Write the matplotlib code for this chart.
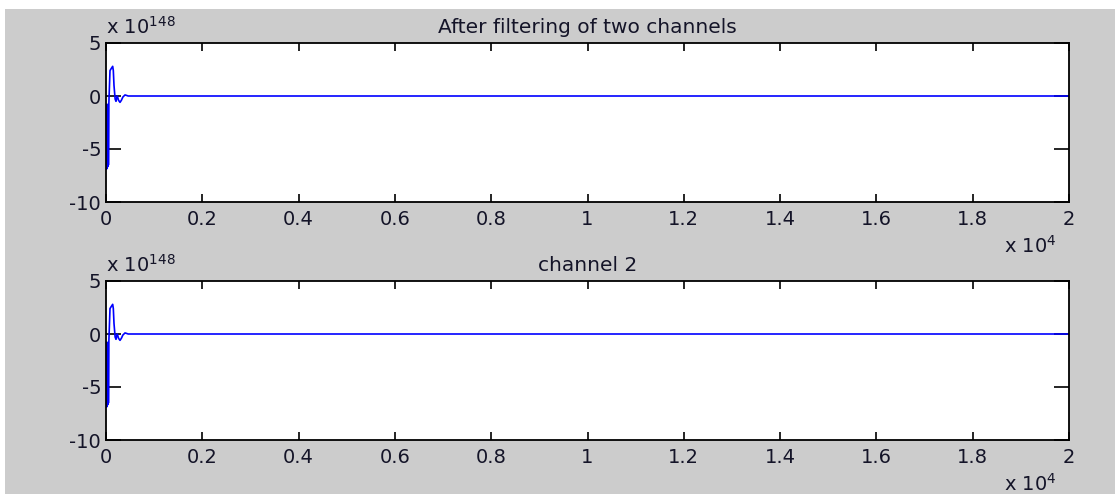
import numpy as np
import matplotlib.pyplot as plt
from matplotlib.patches import Rectangle
from matplotlib.ticker import FuncFormatter

# sample index and filtered output (in units of 1e148)
samples = [0, 5, 10, 15, 20, 25, 30, 35, 40, 45, 50, 60, 83, 110, 139, 152, 166,
           190, 208, 222, 235, 260, 291, 320, 350, 395, 430, 460, 20000]
channel_1 = [-6.9, -0.8, -6.9, -0.8, -6.8, -0.9, -6.7, -0.8, -6.6, -0.8, -6.5,
             -0.6, 2.4, 2.6, 2.8, 2.4, 1.0, -0.3, -0.5, -0.2, 0.0, -0.4, -0.6,
             -0.4, -0.1, 0.1, 0.05, 0.0, 0.0]
channel_2 = [-6.9, -0.8, -6.9, -0.8, -6.8, -0.9, -6.7, -0.8, -6.6, -0.8, -6.5,
             -0.6, 2.4, 2.6, 2.8, 2.4, 1.0, -0.3, -0.5, -0.2, 0.0, -0.4, -0.6,
             -0.4, -0.1, 0.1, 0.05, 0.0, 0.0]
titles = ['After filtering of two channels', 'channel 2']
y_ticks = [-10, -5, 0, 5]
x_ticks = [0, 2000, 4000, 6000, 8000, 10000, 12000, 14000, 16000, 18000, 20000]
y_exp = 148
x_exp = 4

W, H = 1115, 494
plt.rcParams['font.family'] = ['DejaVu Sans']
plt.rcParams['mathtext.fontset'] = 'dejavusans'

fig = plt.figure(figsize=(W / 100, H / 100), dpi=100, facecolor='white')
fig.patches.append(Rectangle((5 / W, 0), 1 - 5 / W, (H - 9) / H,
                             transform=fig.transFigure, facecolor='#cccccc',
                             edgecolor='none', zorder=-10))

boxes = [(106, 43, 1069, 202), (106, 281, 1069, 440)]
series = [channel_1, channel_2]
text_col = '#141428'

for (x0, y0, x1, y1), data, title in zip(boxes, series, titles):
    ax = fig.add_axes([x0 / W, 1 - y1 / H, (x1 - x0) / W, (y1 - y0) / H])
    ax.set_facecolor('white')
    ax.plot(samples, data, color='#0000ff', lw=1.2)
    ax.set_xlim(0, 20000)
    ax.set_ylim(-10, 5)
    ax.set_xticks(x_ticks)
    ax.set_yticks(y_ticks)
    ax.xaxis.set_major_formatter(FuncFormatter(lambda v, p: '%g' % (v / 10 ** x_exp)))
    ax.yaxis.set_major_formatter(FuncFormatter(lambda v, p: '%g' % v))
    ax.tick_params(axis='x', direction='in', length=6, width=1.2, top=True,
                   labelsize=14, pad=5.5, labelcolor=text_col)
    ax.tick_params(axis='y', direction='in', length=11, width=1.2, right=True,
                   labelsize=14, pad=3.5, labelcolor=text_col)
    for s in ax.spines.values():
        s.set_linewidth(1.3)
        s.set_color('black')
    ax.set_title(title, fontsize=14.5, pad=7, color=text_col)
    # exponent labels in the style of MATLAB axes
    ax.text(0.0, 1.03, r'x 10$^{%d}$' % y_exp, transform=ax.transAxes,
            fontsize=14, ha='left', va='bottom', color=text_col)
    ax.text(0.932, -0.21, r'x 10$^{%d}$' % x_exp, transform=ax.transAxes,
            fontsize=14, ha='left', va='top', color=text_col)

fig.savefig('out.png', dpi=100, facecolor='white')
